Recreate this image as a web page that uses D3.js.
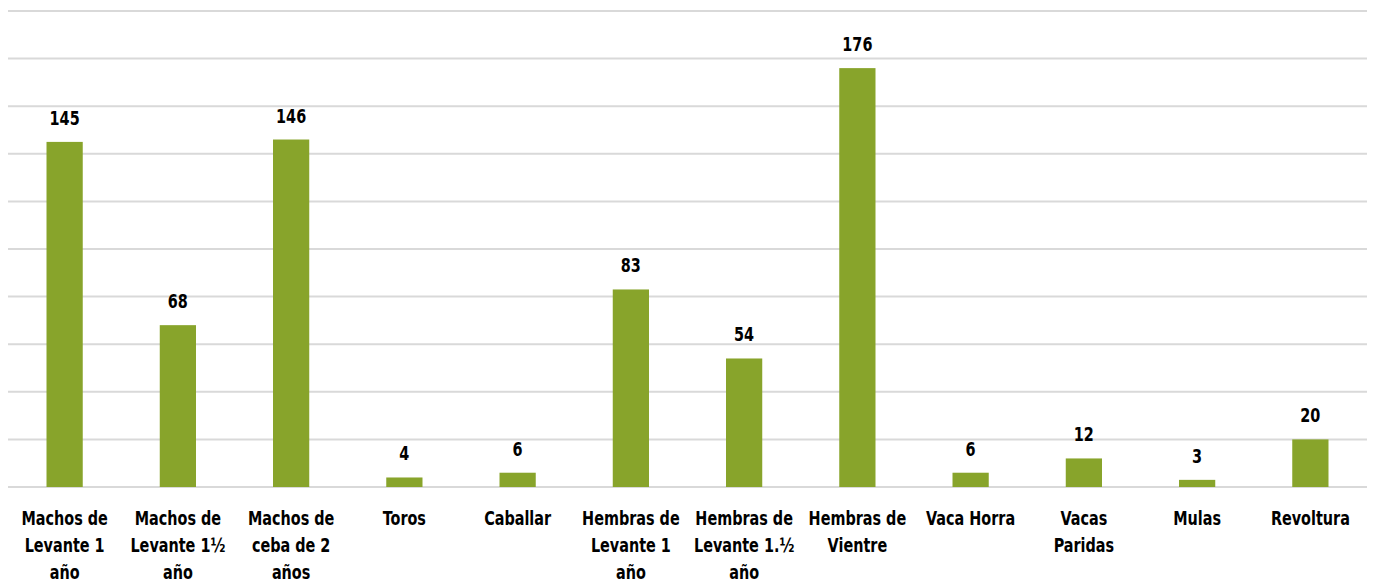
<!DOCTYPE html>
<meta charset="utf-8">
<style>
body { margin: 0; background: #fff; }
.grid line { stroke: #d9d9d9; stroke-width: 2px; }
.bar { fill: #88a42b; }
text { font-family: "Liberation Sans Narrow", "DejaVu Sans Condensed", sans-serif; font-weight: bold; fill: #000; }
</style>
<body>
<script src="https://d3js.org/d3.v7.min.js"></script>
<script>

// categories (already split into lines as in the picture)
var categories = [
  ["Machos de", "Levante 1", "año"],
  ["Machos de", "Levante 1½", "año"],
  ["Machos de", "ceba de 2", "años"],
  ["Toros"],
  ["Caballar"],
  ["Hembras de", "Levante 1", "año"],
  ["Hembras de", "Levante 1.½", "año"],
  ["Hembras de", "Vientre"],
  ["Vaca Horra"],
  ["Vacas", "Paridas"],
  ["Mulas"],
  ["Revoltura"]
];
var values = [145, 68, 146, 4, 6, 83, 54, 176, 6, 12, 3, 20];
var gridTicks = [0, 20, 40, 60, 80, 100, 120, 140, 160, 180, 200];

var width = 1374, height = 585;
var margin = {top: 11, right: 7, bottom: 98, left: 8};

var svg = d3.select("body").append("svg")
    .attr("width", width)
    .attr("height", height);

var x = d3.scaleBand()
    .domain(d3.range(categories.length))
    .range([margin.left, width - margin.right])
    .paddingInner(0.68)
    .paddingOuter(0.34);

var y = d3.scaleLinear()
    .domain([0, 200])
    .range([height - margin.bottom, margin.top]);

// gridlines
svg.append("g")
    .attr("class", "grid")
  .selectAll("line")
    .data(gridTicks)
  .enter().append("line")
    .attr("x1", margin.left)
    .attr("x2", width - margin.right)
    .attr("y1", function(d) { return y(d); })
    .attr("y2", function(d) { return y(d); });

// bars
svg.selectAll(".bar")
    .data(values)
  .enter().append("rect")
    .attr("class", "bar")
    .attr("x", function(d, i) { return x(i); })
    .attr("width", x.bandwidth())
    .attr("y", function(d) { return y(d); })
    .attr("height", function(d) { return y(0) - y(d); });

// value labels (squeezed horizontally to look like a condensed face)
svg.selectAll(".val")
    .data(values)
  .enter().append("text")
    .attr("class", "val")
    .attr("text-anchor", "middle")
    .style("font-size", "20px")
    .attr("transform", function(d, i) {
      return "translate(" + (x(i) + x.bandwidth() / 2) + "," + (y(d) - 17) + ") scale(0.8,1)";
    })
    .text(function(d) { return d; });

// category labels
var cat = svg.selectAll(".cat")
    .data(categories)
  .enter().append("text")
    .attr("class", "cat")
    .attr("text-anchor", "middle")
    .style("font-size", "20px")
    .attr("transform", function(d, i) {
      return "translate(" + (x(i) + x.bandwidth() / 2) + "," + (y(0) + 38) + ") scale(0.8,1)";
    });

cat.selectAll("tspan")
    .data(function(d) { return d; })
  .enter().append("tspan")
    .attr("x", 0)
    .attr("y", function(d, j) { return j * 27; })
    .text(function(d) { return d; });

</script>
</body>
